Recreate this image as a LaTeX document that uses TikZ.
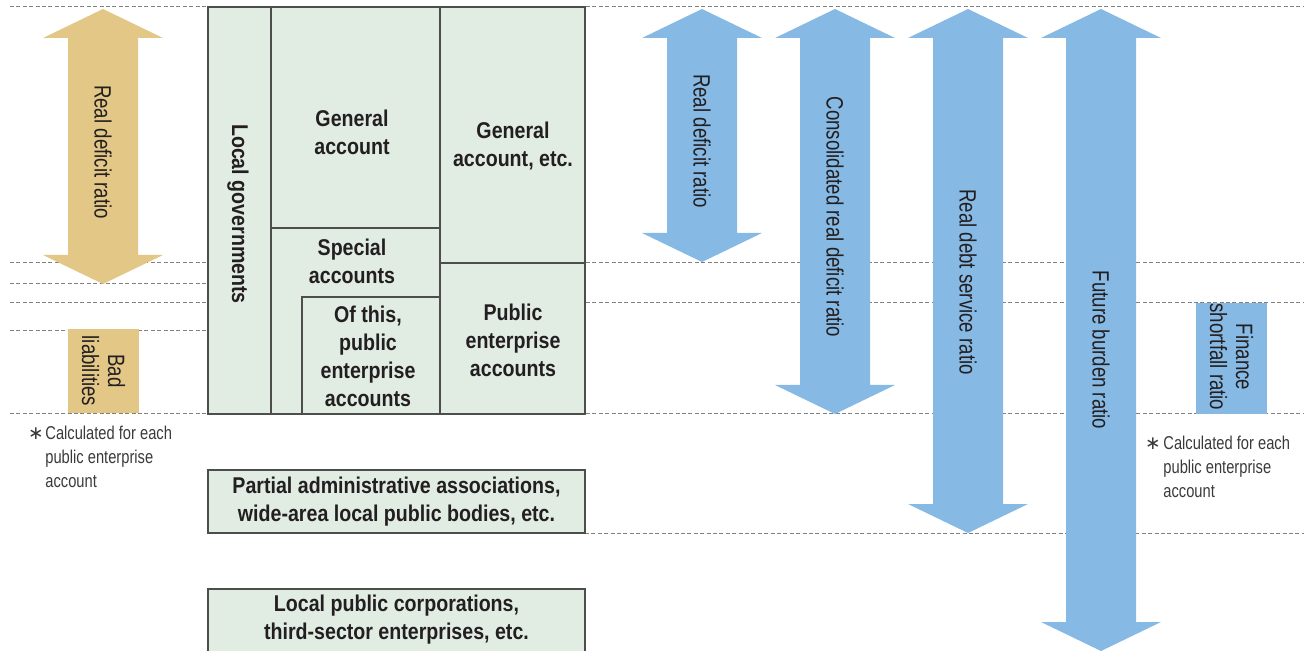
\documentclass[tikz,border=0pt]{standalone}
\usepackage{fontspec}
\setmainfont{Liberation Sans}[FakeStretch=0.79]
\newfontfamily\condbold{Liberation Sans}[FakeStretch=0.86]
\newfontfamily\symfont{DejaVu Sans}
\definecolor{ratiotan}{HTML}{E2C786}
\definecolor{ratioblue}{HTML}{86B9E3}
\definecolor{boxgreen}{HTML}{E1ECE3}
\definecolor{boxline}{HTML}{4D4D4D}
\definecolor{guidegray}{HTML}{808080}
\definecolor{inktext}{HTML}{231F20}
\definecolor{notegray}{HTML}{3A3A3A}

% double-headed bar arrow: colour, centre x, top tip, bottom tip
\newcommand{\dblarrow}[4]{%
  \fill[#1] (#2,#3) -- ++(60,29) -- ++(-25,0) -- (#2+35,#4-29) -- ++(25,0)
    -- (#2,#4) -- ++(-60,-29) -- ++(25,0) -- (#2-35,#3+29) -- ++(-25,0) -- cycle;}

\begin{document}
\begin{tikzpicture}[x=0.5pt, y=-0.5pt,
  guide/.style={draw=guidegray, line width=0.5pt, dash pattern=on 2pt off 1.2pt},
  frame/.style={draw=boxline, line width=0.7pt},
  acct/.style={font=\condbold\bfseries\fontsize{11.4}{14}\selectfont, text=inktext, align=center, inner sep=0pt},
  ratio/.style={font=\fontsize{11.8}{13}\selectfont, text=inktext, rotate=-90, align=center, inner sep=0pt},
  note/.style={font=\fontsize{9.3}{12}\selectfont, text=notegray, align=left, inner sep=0pt}
]
\useasboundingbox (0,0) rectangle (1304,651);

% dashed guide lines
\draw[guide] (10,7) -- (1304,7);
\draw[guide] (10,263) -- (1304,263);
\draw[guide] (10,284) -- (208,284);
\draw[guide] (10,303) -- (1304,303);
\draw[guide] (10,331) -- (208,331);
\draw[guide] (10,414) -- (1304,414);
\draw[guide] (585,533) -- (1304,533);

% local government accounts
\filldraw[frame, fill=boxgreen] (208,7) rectangle (585,414);
\draw[frame] (271,7) -- (271,414);
\draw[frame] (440,7) -- (440,414);
\draw[frame] (271,228) -- (440,228);
\draw[frame] (440,263) -- (585,263);
\draw[frame] (302,414) -- (302,297) -- (440,297);

\node[acct, rotate=-90] (localgov) at (238,214) {Local governments};
\node[acct] (genacc) at (352,132) {General\\account};
\node[acct] (genetc) at (513,146) {General\\account, etc.};
\node[acct] (special) at (352,261) {Special\\accounts};
\node[acct] (ofthis) at (368,356) {Of this,\\public\\enterprise\\accounts};
\node[acct] (pubent) at (513,340) {Public\\enterprise\\accounts};

% other bodies
\filldraw[frame, fill=boxgreen] (208,470) rectangle (585,533);
\node[acct] (partial) at (396.5,501.5) {Partial administrative associations,\\wide-area local public bodies, etc.};
\filldraw[frame, fill=boxgreen] (208,589) rectangle (585,662);
\node[acct] (corps) at (396.5,620) {Local public corporations,\\third-sector enterprises, etc.};

% ratio arrows
\dblarrow{ratiotan}{103}{9}{284}
\node[ratio] (rdrL) at (103,152) {Real deficit ratio};
\fill[ratiotan] (68,329) rectangle (139,413);
\node[ratio] (badliab) at (103.5,371) {Bad\\liabilities};

\dblarrow{ratioblue}{702}{9}{262}
\node[ratio] (rdr) at (702,141) {Real deficit ratio};
\dblarrow{ratioblue}{835}{9}{414}
\node[ratio] (crdr) at (835,217) {Consolidated real deficit ratio};
\dblarrow{ratioblue}{968}{9}{533}
\node[ratio] (rdsr) at (968,282) {Real debt service ratio};
\dblarrow{ratioblue}{1101}{9}{651}
\node[ratio] (fbr) at (1101,350) {Future burden ratio};
\fill[ratioblue] (1196,303) rectangle (1267,414);
\node[ratio] (fsr) at (1231.5,357) {Finance\\shortfall ratio};

% notes
\node[note] (starL) at (36,434) {\symfont ∗};
\node[note, anchor=north west] (noteL) at (45,426) {Calculated for each\\public enterprise\\account};
\node[note] (starR) at (1153,444) {\symfont ∗};
\node[note, anchor=north west] (noteR) at (1163,436) {Calculated for each\\public enterprise\\account};
\end{tikzpicture}
\end{document}
